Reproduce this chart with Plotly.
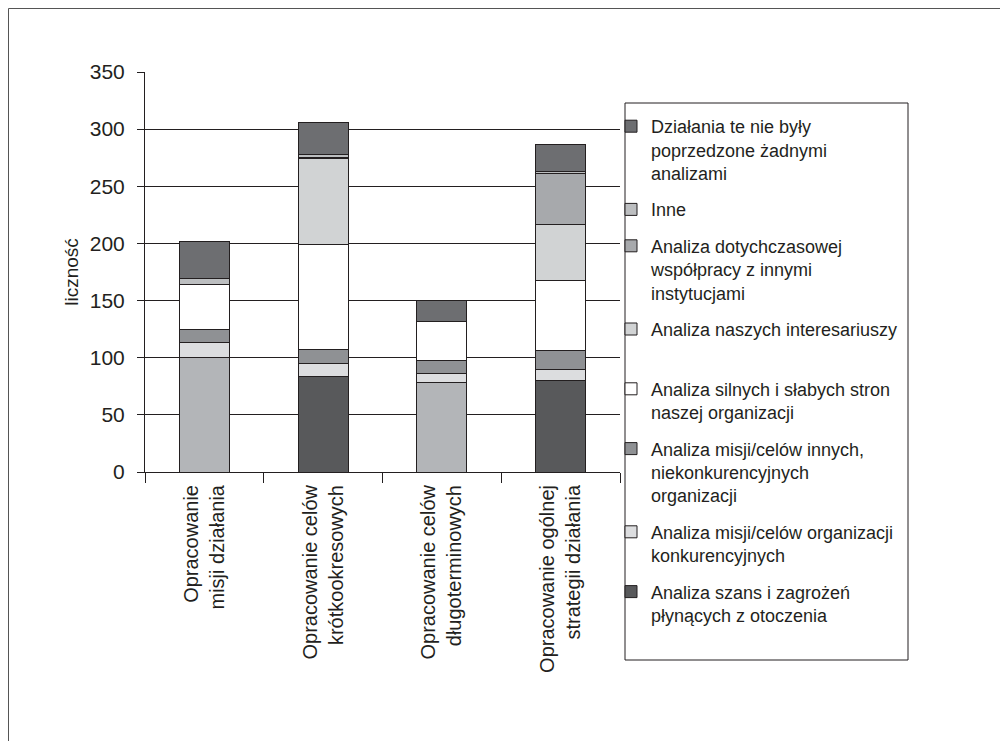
import plotly.graph_objects as go

categories = [
    "Opracowanie<br>misji działania",
    "Opracowanie celów<br>krótkookresowych",
    "Opracowanie celów<br>długoterminowych",
    "Opracowanie ogólnej<br>strategii działania",
]

# series in stacking order (bottom -> top)
series_names = [
    "Analiza szans i zagrożeń<br>płynących z otoczenia",
    "Analiza misji/celów organizacji<br>konkurencyjnych",
    "Analiza misji/celów innych,<br>niekonkurencyjnych<br>organizacji",
    "Analiza silnych i słabych stron<br>naszej organizacji",
    "Analiza naszych interesariuszy<br> ",
    "Analiza dotychczasowej<br>współpracy z innymi<br>instytucjami",
    "Inne",
    "Działania te nie były<br>poprzedzone żadnymi<br>analizami",
]

szans = [100, 84, 78, 80]
konkurencyjnych = [13, 11, 8, 10]
misji_innych = [12, 12, 12, 16]
silnych = [39, 92, 34, 62]
interesariuszy = [0, 75, 0, 49]
dotychczasowej = [0, 1, 0, 44]
inne = [5, 3, 0, 2]
dzialania = [33, 28, 18, 24]

series_values = [szans, konkurencyjnych, misji_innych, silnych,
                 interesariuszy, dotychczasowej, inne, dzialania]
series_colors = ["#58595b", "#dcdddf", "#8f9194", "#ffffff",
                 "#d1d3d4", "#a7a9ac", "#bcbec0", "#6d6e71"]
# the bottom segment of bars 1 and 3 is drawn in a light grey in the original
szans_point_colors = ["#b3b5b8", "#58595b", "#b3b5b8", "#58595b"]

ink = "#231f20"
# plot area in figure pixels
L, T, W, H = 137, 64, 475, 400
FIG_W, FIG_H = 1008, 741


def px_x(p):
    return (p - L) / W


def px_y(p):
    return (T + H - p) / H


fig = go.Figure()

for i, (name, vals, col) in enumerate(zip(series_names, series_values, series_colors)):
    group = f"g{i}"
    rank = 100 - i
    if i == 0:
        fig.add_trace(go.Bar(
            x=categories, y=vals, name=name, legendgroup=group, showlegend=False,
            legendrank=rank,
            marker=dict(color=szans_point_colors, line=dict(color=ink, width=1)),
        ))
        fig.add_trace(go.Bar(
            x=[categories[0]], y=[None], name=name, legendgroup=group, showlegend=True,
            legendrank=rank,
            marker=dict(color=col, line=dict(color=ink, width=1)),
        ))
    else:
        fig.add_trace(go.Bar(
            x=categories, y=vals, name=name, legendgroup=group, legendrank=rank,
            marker=dict(color=col, line=dict(color=ink, width=1)),
        ))

fig.update_layout(
    width=FIG_W, height=FIG_H,
    barmode="stack", bargap=0.58,
    paper_bgcolor="white", plot_bgcolor="white",
    margin=dict(l=L, r=FIG_W - L - W, t=T, b=FIG_H - T - H, autoexpand=False),
    font=dict(family="Arial, Liberation Sans, sans-serif", color=ink, size=18),
    showlegend=True,
    legend=dict(
        x=px_x(603), y=px_y(100), xanchor="left", yanchor="top",
        traceorder="grouped", tracegroupgap=10,
        valign="top", maxheight=700,
        borderwidth=0, bgcolor="rgba(0,0,0,0)",
        font=dict(size=18, color=ink),
    ),
    xaxis=dict(
        type="category", categoryorder="array", categoryarray=categories,
        tickangle=-90, tickson="boundaries", ticks="outside", ticklen=10,
        tickcolor=ink, showline=True, linecolor=ink, linewidth=1,
        showgrid=False, tickfont=dict(size=20), ticklabelstandoff=4,
    ),
    yaxis=dict(
        range=[0, 350], dtick=50, tick0=0,
        ticks="outside", ticklen=7, tickcolor=ink,
        showline=True, linecolor=ink, linewidth=1,
        showgrid=True, gridcolor=ink, gridwidth=1, zeroline=False,
        tickfont=dict(size=21), ticklabelstandoff=8,
        title=dict(text="liczność", font=dict(size=19), standoff=6),
    ),
    shapes=[
        # legend frame
        dict(type="rect", xref="paper", yref="paper",
             x0=px_x(617), x1=px_x(900), y0=px_y(652), y1=px_y(95),
             line=dict(color=ink, width=1), fillcolor="rgba(0,0,0,0)", layer="below"),
        # outer frame (top and left)
        dict(type="line", xref="paper", yref="paper",
             x0=px_x(0.5), x1=px_x(FIG_W), y0=px_y(0.5), y1=px_y(0.5),
             line=dict(color="#555555", width=1)),
        dict(type="line", xref="paper", yref="paper",
             x0=px_x(0.5), x1=px_x(0.5), y0=px_y(0.5), y1=px_y(FIG_H),
             line=dict(color="#555555", width=1)),
    ],
)

fig.write_html("out.html")
